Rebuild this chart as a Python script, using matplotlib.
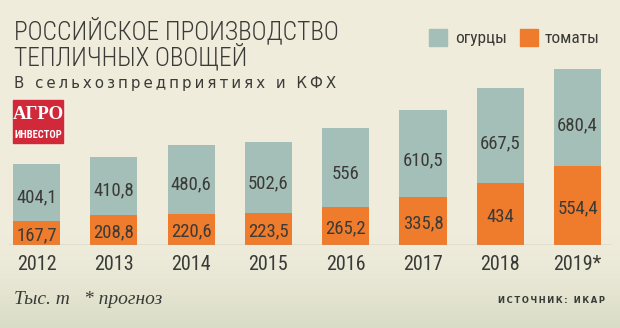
import numpy as np
import matplotlib
matplotlib.use("Agg")
import matplotlib.pyplot as plt
from matplotlib import font_manager
from matplotlib.patches import Rectangle

years = ["2012", "2013", "2014", "2015", "2016", "2017", "2018", "2019*"]
cucumbers = [404.1, 410.8, 480.6, 502.6, 556, 610.5, 667.5, 680.4]
tomatoes = [167.7, 208.8, 220.6, 223.5, 265.2, 335.8, 434, 554.4]


def fmt(v):
    return f"{v:g}".replace(".", ",")


names = {f.name for f in font_manager.fontManager.ttflist}


def pick(*cands):
    for c in cands:
        if c in names:
            return c
    return "DejaVu Sans"


NARROW = pick("Roboto Condensed", "PT Sans Narrow", "Fira Sans Condensed",
              "Open Sans Condensed", "IBM Plex Sans Condensed", "Liberation Sans Narrow",
              "Oswald")
SERIF = pick("Liberation Serif", "PT Serif", "DejaVu Serif")

BG = "#efecdc"
TEAL = "#a4bfb8"
ORANGE = "#ef7b2c"
DARK = "#3a3a36"

W, H = 620, 328
fig = plt.figure(figsize=(6.2, 3.28), dpi=100)
fig.patch.set_facecolor(BG)

# soft greenish haze at the bottom of the background
bg = fig.add_axes([0, 0, 1, 1], zorder=-5)
grad = np.linspace(0, 1, 328)[:, None]
grad = np.clip((grad - 0.72) / 0.28, 0, 1) ** 1.5
c0 = np.array(matplotlib.colors.to_rgb(BG))
c1 = np.array(matplotlib.colors.to_rgb("#d9dcc6"))
img = c0 + (c1 - c0) * grad[..., None]
bg.imshow(np.repeat(img, 2, axis=1), aspect="auto", extent=[0, 1, 0, 1])
bg.set_axis_off()

# main axes, pixel geometry: baseline at y=245 px, bar centres 36.5 + 77.3*i
base_px = 245
scale = 0.1425  # px per thousand tonnes
ax = fig.add_axes([0, (H - base_px) / H, 1, base_px / H])
ax.set_facecolor("none")
ax.set_xlim((0 - 36.5) / 77.3, (W - 36.5) / 77.3)
ax.set_ylim(0, base_px / scale)

x = np.arange(len(years))
bw = 0.61
ax.bar(x, tomatoes, width=bw, color=ORANGE, zorder=2)
ax.bar(x, cucumbers, width=bw, bottom=tomatoes, color=TEAL, zorder=2)
ax.axhline(0, xmin=0.015, xmax=0.985, color="#a9a9a0", lw=1.0, zorder=3)

for i in range(len(years)):
    ax.text(x[i], tomatoes[i] / 2 - 18, fmt(tomatoes[i]), ha="center", va="center",
            fontsize=13.5, family=NARROW, color=DARK, zorder=4)
    ax.text(x[i], tomatoes[i] + cucumbers[i] * 0.42, fmt(cucumbers[i]), ha="center",
            va="center", fontsize=13.5, family=NARROW, color=DARK, zorder=4)

ax.set_xticks(x)
ax.set_xticklabels(years, family=NARROW, fontsize=14.5, color=DARK)
ax.tick_params(axis="x", length=0, pad=7)
ax.set_yticks([])
for s in ax.spines.values():
    s.set_visible(False)

# title block
fig.text(14 / W, 1 - 39 / H, "РОССИЙСКОЕ ПРОИЗВОДСТВО", family=NARROW, fontsize=18.4,
         fontweight="light", color=DARK, va="baseline")
fig.text(14 / W, 1 - 66 / H, "ТЕПЛИЧНЫХ ОВОЩЕЙ", family=NARROW, fontsize=18.4,
         fontweight="light", color=DARK, va="baseline")
fig.text(14 / W, 1 - 88 / H, "\u2009".join("В сельхозпредприятиях и КФХ"),
         family="DejaVu Sans", fontsize=10.8, color=DARK, va="baseline")

# logo
fig.patches.append(Rectangle((13 / W, 1 - 143 / H), 50 / W, 43 / H,
                             transform=fig.transFigure, color="#d1283a", zorder=3))
fig.text(38 / W, 1 - 119 / H, "АГРО", family=SERIF, fontweight="bold", fontsize=13.5,
         color="white", ha="center", va="baseline", zorder=4)
fig.text(38 / W, 1 - 138 / H, "ИНВЕСТОР", family=NARROW, fontweight="bold", fontsize=7.6,
         color="white", ha="center", va="baseline", zorder=4)

# legend
fig.patches.append(Rectangle((429 / W, 1 - 46 / H), 18 / W, 17 / H,
                             transform=fig.transFigure, color=TEAL))
fig.text(455 / W, 1 - 43 / H, "огурцы", family=NARROW, fontsize=12.5, color=DARK,
         va="baseline")
fig.patches.append(Rectangle((520 / W, 1 - 46 / H), 18 / W, 17 / H,
                             transform=fig.transFigure, color=ORANGE))
fig.text(545 / W, 1 - 43 / H, "томаты", family=NARROW, fontsize=12.5, color=DARK,
         va="baseline")

# footer
fig.text(14 / W, 1 - 304 / H, "Тыс. т", family=SERIF, style="italic", fontsize=14,
         color=DARK, va="baseline")
fig.text(84 / W, 1 - 304 / H, "* прогноз", family=SERIF, style="italic", fontsize=14,
         color=DARK, va="baseline")
fig.text(605 / W, 1 - 303 / H, "\u2009".join("ИСТОЧНИК: ИКАР"), family="DejaVu Sans",
         fontweight="bold", fontsize=6, color=DARK, ha="right", va="baseline")

fig.savefig("out.png", dpi=100, facecolor=BG)
